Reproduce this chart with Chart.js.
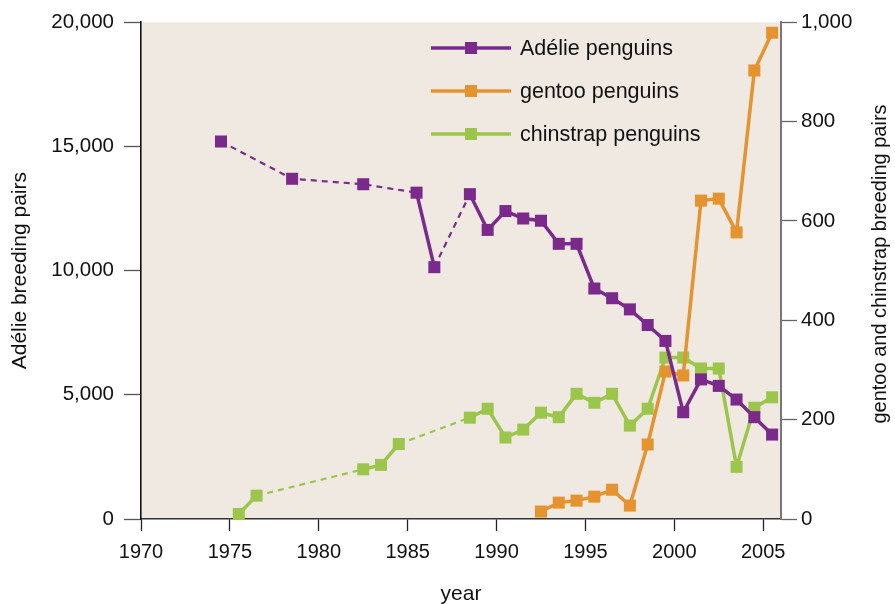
<!DOCTYPE html>
<html>
<head>
<meta charset="utf-8">
<title>Penguin breeding pairs</title>
<script src="https://cdn.jsdelivr.net/npm/chart.js@4.4.1/dist/chart.umd.min.js"></script>
<style>
  html, body { margin: 0; padding: 0; background: #ffffff; }
  #wrap { width: 895px; height: 604px; }
</style>
</head>
<body>
<div id="wrap"><canvas id="penguinChart" width="895" height="604"></canvas></div>
<script>
/* ===============================
   Data
================================*/
const adelieYears = [1974.5, 1978.5, 1982.5, 1985.5, 1986.5, 1988.5, 1989.5, 1990.5, 1991.5, 1992.5, 1993.5, 1994.5,
  1995.5, 1996.5, 1997.5, 1998.5, 1999.5, 2000.5, 2001.5, 2002.5, 2003.5, 2004.5, 2005.5];
const adeliePairs = [15200, 13700, 13480, 13140, 10140, 13080, 11640, 12400, 12100, 12010, 11080, 11080,
  9280, 8890, 8440, 7810, 7170, 4300, 5620, 5360, 4810, 4100, 3400];

const gentooYears = [1992.5, 1993.5, 1994.5, 1995.5, 1996.5, 1997.5, 1998.5, 1999.5, 2000.5, 2001.5, 2002.5,
  2003.5, 2004.5, 2005.5];
const gentooPairs = [15, 33, 37, 45, 59, 27, 150, 297, 289, 641, 645, 577, 903, 979];

const chinstrapYears = [1975.5, 1976.5, 1982.5, 1983.5, 1984.5, 1988.5, 1989.5, 1990.5, 1991.5, 1992.5, 1993.5,
  1994.5, 1995.5, 1996.5, 1997.5, 1998.5, 1999.5, 2000.5, 2001.5, 2002.5, 2003.5, 2004.5, 2005.5];
const chinstrapPairs = [10, 47, 100, 109, 151, 204, 222, 164, 180, 214, 205, 252, 234, 252, 188, 222, 325, 325,
  303, 303, 105, 224, 245];

const yearTicks = [1970, 1975, 1980, 1985, 1990, 1995, 2000, 2005];
const adelieTicks = [0, 5000, 10000, 15000, 20000];
const otherTicks = [0, 200, 400, 600, 800, 1000];

const seriesLabels = ["Adélie penguins", "gentoo penguins", "chinstrap penguins"];
const seriesColors = ["#7b2a8c", "#e5932f", "#9cc64b"];
const rightTitle = "gentoo and chinstrap breeding pairs";

/* ===============================
   Helpers
================================*/
const FONT = "'Liberation Sans', Arial, Helvetica, sans-serif";

function toPoints(xs, ys) {
  return xs.map((x, i) => ({ x: x, y: ys[i] }));
}

// a jump of more than one season is drawn dashed
function isGap(ctx) {
  return ctx.p1.parsed.x - ctx.p0.parsed.x > 1.5;
}

function makeSeries(i, xs, ys, axis) {
  return {
    label: seriesLabels[i],
    data: toPoints(xs, ys),
    yAxisID: axis,
    borderColor: seriesColors[i],
    backgroundColor: seriesColors[i],
    borderWidth: 3.5,
    pointStyle: "rect",
    pointRadius: 8.5,
    pointHoverRadius: 8.5,
    pointBorderWidth: 0,
    tension: 0,
    clip: false,
    segment: {
      borderDash: ctx => isGap(ctx) ? [6, 5] : undefined,
      borderWidth: ctx => isGap(ctx) ? 2.2 : undefined
    }
  };
}

function fixedTicks(list) {
  return scale => { scale.ticks = list.map(v => ({ value: v })); };
}

/* ===============================
   Plugins: plot background, legend, right title
================================*/
const plotBackground = {
  id: "plotBackground",
  beforeDraw(chart) {
    const { ctx, chartArea: a } = chart;
    ctx.save();
    ctx.fillStyle = "#efe9e2";
    ctx.fillRect(a.left, a.top, a.right - a.left, a.bottom - a.top);
    ctx.restore();
  }
};

const insideLegend = {
  id: "insideLegend",
  afterDraw(chart) {
    const ctx = chart.ctx;
    const rows = [48, 91, 134];
    ctx.save();
    ctx.font = "21.5px " + FONT;
    ctx.textBaseline = "middle";
    chart.data.datasets.forEach((ds, i) => {
      const y = rows[i];
      ctx.strokeStyle = ds.borderColor;
      ctx.lineWidth = 3.5;
      ctx.beginPath();
      ctx.moveTo(431, y);
      ctx.lineTo(511, y);
      ctx.stroke();
      ctx.fillStyle = ds.borderColor;
      ctx.fillRect(465, y - 6, 12, 12);
      ctx.fillStyle = "#111";
      ctx.fillText(ds.label, 520, y + 1);
    });
    ctx.restore();
  }
};

// right-hand title reads bottom-to-top like the left one
const rightAxisTitle = {
  id: "rightAxisTitle",
  afterDraw(chart) {
    const ctx = chart.ctx;
    ctx.save();
    ctx.translate(880, 264);
    ctx.rotate(-Math.PI / 2);
    ctx.font = "20px " + FONT;
    ctx.fillStyle = "#111";
    ctx.textAlign = "center";
    ctx.textBaseline = "middle";
    ctx.fillText(rightTitle, 0, 0);
    ctx.restore();
  }
};

/* ===============================
   Chart
================================*/
new Chart(document.getElementById("penguinChart"), {
  type: "line",
  data: {
    datasets: [
      makeSeries(0, adelieYears, adeliePairs, "y"),
      makeSeries(1, gentooYears, gentooPairs, "y1"),
      makeSeries(2, chinstrapYears, chinstrapPairs, "y1")
    ]
  },
  options: {
    responsive: false,
    animation: false,
    layout: { padding: { top: 19, right: 0, bottom: 0, left: 0 } },
    plugins: {
      legend: { display: false },
      tooltip: { enabled: false }
    },
    scales: {
      x: {
        type: "linear",
        min: 1970,
        max: 2006,
        afterBuildTicks: fixedTicks(yearTicks),
        afterFit: scale => { scale.height = 85; },
        grid: { drawOnChartArea: false, tickLength: 12, tickColor: "#222", tickWidth: 1.3 },
        border: { color: "#333", width: 1.5 },
        ticks: {
          padding: 9,
          color: "#111",
          font: { family: FONT, size: 20 },
          maxRotation: 0,
          callback: v => String(v)
        },
        title: {
          display: true,
          text: "year",
          color: "#111",
          font: { family: FONT, size: 21, lineHeight: 1 },
          padding: { top: 0, bottom: -1 }
        }
      },
      y: {
        position: "left",
        min: 0,
        max: 20000,
        afterBuildTicks: fixedTicks(adelieTicks),
        afterFit: scale => { scale.width = 141; },
        grid: { drawOnChartArea: false, tickLength: 17, tickColor: "#555", tickWidth: 1.3 },
        border: { color: "#111", width: 1.6 },
        ticks: {
          padding: 10,
          color: "#111",
          font: { family: FONT, size: 20.5 },
          callback: v => v.toLocaleString("en-US")
        },
        title: {
          display: true,
          text: "Adélie breeding pairs",
          color: "#111",
          font: { family: FONT, size: 21 },
          padding: { top: 8, bottom: 0 }
        }
      },
      y1: {
        position: "right",
        min: 0,
        max: 1000,
        afterBuildTicks: fixedTicks(otherTicks),
        afterFit: scale => { scale.width = 114; },
        grid: { drawOnChartArea: false, tickLength: 16, tickColor: "#666", tickWidth: 1.3 },
        border: { color: "#777", width: 2 },
        ticks: {
          padding: 4,
          color: "#111",
          font: { family: FONT, size: 20.5 },
          callback: v => v.toLocaleString("en-US")
        },
        title: { display: false }
      }
    }
  },
  plugins: [plotBackground, insideLegend, rightAxisTitle]
});
</script>
</body>
</html>
